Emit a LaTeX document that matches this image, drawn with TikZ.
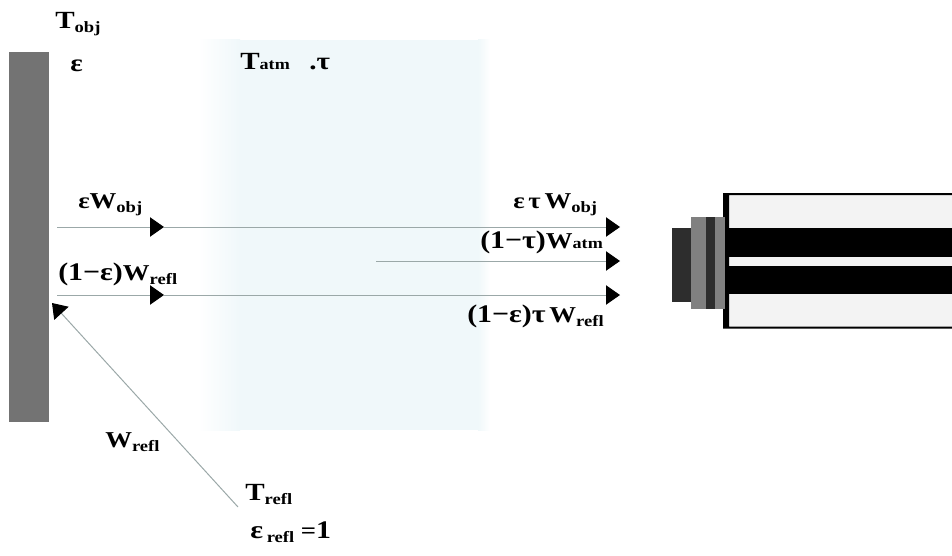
\documentclass[tikz,border=0pt]{standalone}
\usepackage{xcolor}
\usepackage{fontspec}
\setmainfont[FakeStretch=1.18]{Liberation Serif}
\usetikzlibrary{arrows.meta}

\definecolor{wallgray}{RGB}{115,115,115}
\definecolor{atmteal}{RGB}{240,248,250}
\definecolor{raygray}{RGB}{155,168,168}
\definecolor{lensdark}{RGB}{45,45,45}
\definecolor{lensgray}{RGB}{128,128,128}
\definecolor{bodypale}{RGB}{243,243,243}

\newcommand{\lowtxt}[1]{\raisebox{-3pt}{\fontsize{11.8}{12}\selectfont #1}}
\newcommand{\sametxt}[1]{{\fontsize{11.5}{12}\selectfont #1}}
\newcommand{\bigtxt}[1]{{\fontsize{19}{20}\selectfont #1}}

\tikzset{
  ray/.style={draw=raygray,line width=0.75,-{Triangle[length=10.5pt,width=14.5pt,color=black]}},
  lbl/.style={anchor=base west,inner sep=0pt,font=\fontsize{17}{18}\bfseries\selectfont},
  biglbl/.style={anchor=base west,inner sep=0pt,font=\fontsize{18.5}{20}\bfseries\selectfont},
}

\begin{document}
\begin{tikzpicture}[x=0.75pt,y=0.75pt,yscale=-1,xscale=1]
\useasboundingbox (0,0) rectangle (952,556);

%Shape: Atmosphere
\shade [left color=white,right color=atmteal] (198,40) rectangle (240,430);
\fill [atmteal] (240,40) rectangle (478,430);
\shade [left color=atmteal,right color=white] (478,40) rectangle (490,430);
%Shape: Wall
\fill [wallgray] (8.5,52) -- (48.5,52) -- (48.5,422) -- (8.5,422) -- cycle ;
%Shape: Camera body
\fill [bodypale] (724,194) -- (952,194) -- (952,328) -- (724,328) -- cycle ;
\fill [black] (723,193) -- (952,193) -- (952,195) -- (729,195) -- (729,326.5) -- (952,326.5) -- (952,328.5) -- (723,328.5) -- cycle ;
\fill [black] (726,227.5) -- (952,227.5) -- (952,256.5) -- (726,256.5) -- cycle ;
\fill [black] (726,265.5) -- (952,265.5) -- (952,293.5) -- (726,293.5) -- cycle ;
%Shape: Camera lens
\fill [lensdark] (672,228) -- (691,228) -- (691,302) -- (672,302) -- cycle ;
\fill [lensgray] (691,217) -- (725,217) -- (725,309) -- (691,309) -- cycle ;
\fill [lensdark] (706,217) -- (714.5,217) -- (714.5,309) -- (706,309) -- cycle ;

%Ray ends
\coordinate (objstart) at (57,227) ;
\coordinate (objmid) at (164,227) ;
\coordinate (objend) at (620,227) ;
\coordinate (atmstart) at (376,261) ;
\coordinate (atmend) at (620,261) ;
\coordinate (reflstart) at (57,295) ;
\coordinate (reflmid) at (164,295) ;
\coordinate (reflend) at (620,295) ;
\coordinate (srcstart) at (238,507) ;
\coordinate (srcend) at (52,303) ;

%Straight Lines
\draw [ray] (objstart) -- (objmid) ;
\draw [ray] (objmid) -- (objend) ;
\draw [ray] (atmstart) -- (atmend) ;
\draw [ray] (reflstart) -- (reflmid) ;
\draw [ray] (reflmid) -- (reflend) ;
\draw [ray] (srcstart) -- (srcend) ;

% Text Node
\draw (55,29) node (tobj) [biglbl] {T\lowtxt{obj}};
% Text Node
\draw (70,72) node (eobj) [biglbl] {ε};
% Text Node
\draw (240,70) node (tatm) [biglbl] {T\sametxt{atm}};
% Text Node
\draw (309,70) node (tauatm) [biglbl] {.τ};
% Text Node
\draw (78,208) node (wobj) [lbl] {εW\lowtxt{obj}};
% Text Node
\draw (58,280) node (wrefl) [lbl] {\bigtxt{(1−ε)}W\lowtxt{refl}};
% Text Node
\draw (105,447) node (wsrc) [lbl] {W\lowtxt{refl}};
% Text Node
\draw (245,500) node (trefl) [biglbl] {T\lowtxt{refl}};
% Text Node
\draw (250,538) node (erefl) [lbl] {\bigtxt{ε}\,\lowtxt{refl} =\bigtxt{1}};
% Text Node
\draw (513,208) node (etwobj) [lbl] {ε\,τ\,W\lowtxt{obj}};
% Text Node
\draw (480,248) node (twatm) [lbl] {\bigtxt{(1−τ)}W\sametxt{atm}};
% Text Node
\draw (467,322) node (etwrefl) [lbl] {\bigtxt{(1−ε)τ}\,W\lowtxt{refl}};

\end{tikzpicture}
\end{document}
